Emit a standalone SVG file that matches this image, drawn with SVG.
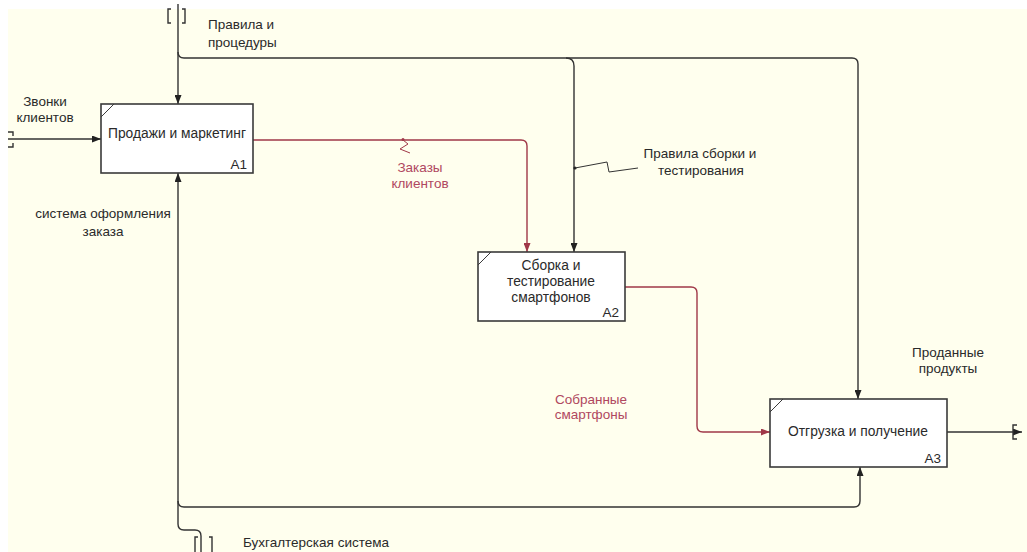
<svg xmlns="http://www.w3.org/2000/svg" width="1027" height="552" viewBox="0 0 1027 552">
<defs>
<style>
.bg{fill:#FFFFEE}
.box{fill:#FFFFFF;stroke:#3a3a3a;stroke-width:1.6}
.corner{stroke:#3a3a3a;stroke-width:1;fill:none}
.t{font-family:"Liberation Sans",Arial,sans-serif;font-size:13.5px;fill:#2a2a2a}
.tb{font-family:"Liberation Sans",Arial,sans-serif;font-size:13.8px;fill:#2a2a2a}
.tr{font-family:"Liberation Sans",Arial,sans-serif;font-size:13.5px;fill:#B04860}
.k{fill:none;stroke:#333333;stroke-width:1.4}
.r{fill:none;stroke:#A03848;stroke-width:1.4}
.sq{fill:none;stroke:#333333;stroke-width:1}
.sqr{fill:none;stroke:#A03848;stroke-width:1}
</style>
<marker id="ak" markerUnits="userSpaceOnUse" markerWidth="9" markerHeight="7" refX="9" refY="3.5" orient="auto"><path d="M0,0 L9,3.5 L0,7 z" fill="#222"/></marker>
<marker id="ar" markerUnits="userSpaceOnUse" markerWidth="9" markerHeight="7" refX="9" refY="3.5" orient="auto"><path d="M0,0 L9,3.5 L0,7 z" fill="#A03848"/></marker>
</defs>
<rect x="0" y="0" width="1027" height="552" fill="#FFFFFF"/>
<rect class="bg" x="8" y="9" width="1019" height="543"/>

<g id="connectors">
<!-- control top -->
<path class="k" d="M178,4 V104" marker-end="url(#ak)"/>
<path class="k" d="M178,52 Q178,58 184,58 H852 Q858,58 858,64 V399" marker-end="url(#ak)"/>
<path class="k" d="M566,58 Q574,58 574,66 V252" marker-end="url(#ak)"/>
<path class="k" d="M171,9 H168 V23 H171 M182,9 H185 V23 H182"/>
<!-- input -->
<path class="k" d="M8,139 H101" marker-end="url(#ak)"/>
<path class="k" d="M8,132 H13 V136 M13,143 V147 H8"/>
<!-- A1 -> A2 -->
<path class="r" d="M253,140 H521 Q527,140 527,146 V252" marker-end="url(#ar)"/>
<circle cx="403" cy="139.5" r="1.5" fill="#A03848"/>
<path class="sqr" d="M403,140 L408,144 L400,149 L410,153"/>
<!-- A2 -> A3 -->
<path class="r" d="M625,287 H691 Q697,287 697,293 V426 Q697,432 703,432 H770" marker-end="url(#ar)"/>
<!-- output A3 -->
<path class="k" d="M947,432 H1022" marker-end="url(#ak)"/>
<path class="k" d="M1017,425 H1013 V439 H1017"/>
<!-- mechanism -->
<path class="k" d="M201,552 V536 Q201,530 195,530 H184 Q178,530 178,524 V173" marker-end="url(#ak)"/>
<path class="k" d="M178,501 Q178,507 184,507 H854 Q860,507 860,501 V467" marker-end="url(#ak)"/>
<path class="k" d="M198,537 H195 V552 M209,537 H212 V552"/>
<!-- squiggle for assembly rules -->
<circle cx="575" cy="168" r="1.6" fill="#222"/>
<path class="sq" d="M575,168 L607,162 L609,172 L638,168"/>
</g>

<g id="A1">
<rect class="box" x="101" y="104" width="152" height="69"/>
<path class="corner" d="M101,117 L114,104"/>
<text class="tb" x="177" y="138" text-anchor="middle">Продажи и маркетинг</text>
<text class="t" x="247" y="169" text-anchor="end">A1</text>
</g>

<g id="A2">
<rect class="box" x="478" y="252" width="147" height="69"/>
<path class="corner" d="M478,265 L491,252"/>
<text class="tb" x="551" y="270" text-anchor="middle">Сборка и</text>
<text class="tb" x="551" y="286" text-anchor="middle">тестирование</text>
<text class="tb" x="551" y="302" text-anchor="middle">смартфонов</text>
<text class="t" x="619" y="317" text-anchor="end">A2</text>
</g>

<g id="A3">
<rect class="box" x="770" y="399" width="177" height="68"/>
<path class="corner" d="M770,412 L783,399"/>
<text class="tb" x="858" y="436" text-anchor="middle">Отгрузка и получение</text>
<text class="t" x="941" y="463" text-anchor="end">A3</text>
</g>

<g id="labels">
<text class="t" x="208" y="29">Правила и</text>
<text class="t" x="208" y="47">процедуры</text>
<text class="t" x="45" y="106" text-anchor="middle">Звонки</text>
<text class="t" x="45" y="122" text-anchor="middle">клиентов</text>
<text class="t" x="103" y="218" text-anchor="middle">система оформления</text>
<text class="t" x="103" y="236" text-anchor="middle">заказа</text>
<text class="tr" x="420" y="172" text-anchor="middle">Заказы</text>
<text class="tr" x="420" y="188" text-anchor="middle">клиентов</text>
<text class="t" x="700" y="158" text-anchor="middle">Правила сборки и</text>
<text class="t" x="701" y="175" text-anchor="middle">тестирования</text>
<text class="tr" x="591" y="404" text-anchor="middle">Собранные</text>
<text class="tr" x="591" y="419" text-anchor="middle">смартфоны</text>
<text class="t" x="948" y="357" text-anchor="middle">Проданные</text>
<text class="t" x="948" y="373" text-anchor="middle">продукты</text>
<text class="t" x="243" y="547">Бухгалтерская система</text>
</g>
</svg>
